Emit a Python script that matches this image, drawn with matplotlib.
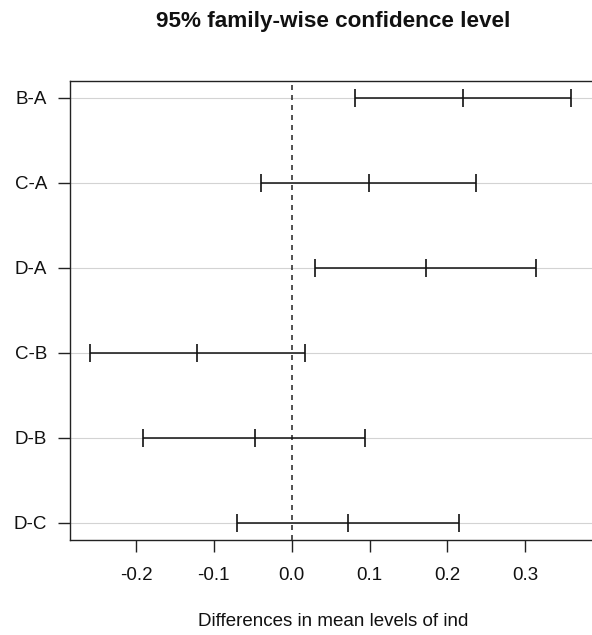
import matplotlib
matplotlib.use("Agg")
import matplotlib.pyplot as plt

plt.rcParams['font.family'] = ['Liberation Sans', 'DejaVu Sans']

# Tukey HSD pairwise comparisons: difference, lower and upper bounds
comparisons = ["B-A", "C-A", "D-A", "C-B", "D-B", "D-C"]
diff = [0.2204, 0.0989, 0.1725, -0.1216, -0.0475, 0.0723]
lwr = [0.0817, -0.0394, 0.0295, -0.2594, -0.1905, -0.0706]
upr = [0.3583, 0.2367, 0.3138, 0.0175, 0.0937, 0.2153]
xticks = [-0.2, -0.1, 0.0, 0.1, 0.2, 0.3]
xtick_labels = ["-0.2", "-0.1", "0.0", "0.1", "0.2", "0.3"]

W, H = 592, 635
fig = plt.figure(figsize=(W / 100, H / 100), dpi=100)
left_px, right_px, top_px, bot_px = 70.3, 596, 80.7, 540
ax = fig.add_axes([left_px / W, 1 - bot_px / H,
                   (right_px - left_px) / W, (bot_px - top_px) / H])

n = len(comparisons)
rows = list(range(n, 0, -1))

for r in rows:
    ax.axhline(r, color="#d3d3d3", lw=0.8, zorder=1)
ax.axvline(0, color="#333333", lw=1.2, ls=(0, (3, 3)), zorder=2)

ax.hlines(rows, lwr, upr, color="#111111", lw=1.1, zorder=3)
for vals in (lwr, diff, upr):
    ax.plot(vals, rows, ls="none", marker="|", ms=12.7, mew=1.2,
            color="#111111", zorder=4)

ax.set_xlim(-0.2843, 0.3908)
ax.set_ylim(0.8, n + 0.2)

ax.set_xticks(xticks)
ax.set_xticklabels(xtick_labels)
ax.set_yticks(rows)
ax.set_yticklabels(comparisons)

for side in ("left", "bottom", "top"):
    ax.spines[side].set_color("#222222")
    ax.spines[side].set_linewidth(1.0)
ax.spines["right"].set_visible(False)

ax.tick_params(axis="both", length=8.6, width=1.0, color="#222222",
               labelsize=13.5, labelcolor="#111111")
ax.tick_params(axis="x", pad=11)
ax.tick_params(axis="y", pad=8)

fig.text(333 / W, 1 - 21 / H, "95% family-wise confidence level",
         ha="center", va="center", fontsize=16.2, fontweight="bold",
         color="#111111")
fig.text(333 / W, 1 - 621 / H, "Differences in mean levels of ind",
         ha="center", va="center", fontsize=13.5, color="#111111")

fig.savefig("out.png", dpi=100)
